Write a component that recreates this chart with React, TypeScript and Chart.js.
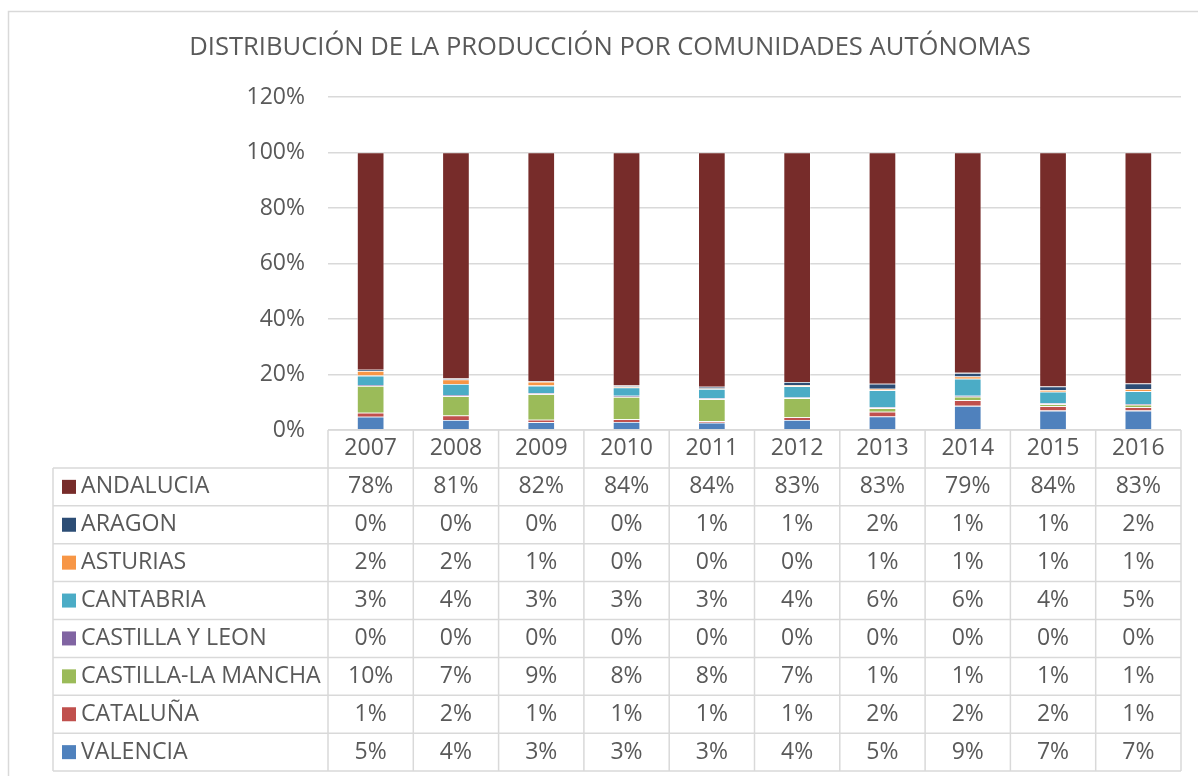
import React, { useEffect, useRef } from 'react';
import { Chart, registerables } from 'chart.js';

Chart.register(...registerables);

// ---- Data ----
const years = ['2007', '2008', '2009', '2010', '2011', '2012', '2013', '2014', '2015', '2016'];

const valencia = [4.8, 3.6, 2.8, 2.9, 2.6, 3.6, 4.9, 8.7, 7.0, 7.0];
const cataluna = [1.4, 1.6, 0.9, 1.0, 0.6, 1.0, 1.7, 2.0, 1.6, 1.2];
const castillaLaMancha = [9.7, 7.0, 9.2, 8.0, 7.9, 6.9, 1.3, 1.3, 0.7, 0.9];
const castillaLeon = [0.3, 0.4, 0.4, 0.4, 0.3, 0.2, 0.3, 0.3, 0.3, 0.3];
const cantabria = [3.4, 4.0, 2.7, 3.0, 3.4, 4.1, 6.1, 6.2, 4.2, 4.6];
const asturias = [1.7, 1.6, 1.4, 0.4, 0.2, 0.3, 0.6, 0.8, 0.6, 0.8];
const aragon = [0.4, 0.4, 0.2, 0.3, 0.6, 1.2, 1.8, 1.3, 1.3, 2.0];
const andalucia = [78.3, 81.4, 82.4, 84.0, 84.4, 82.7, 83.3, 79.4, 84.3, 83.2];

// stacking order, bottom to top
const seriesNames = ['VALENCIA', 'CATALUÑA', 'CASTILLA-LA MANCHA', 'CASTILLA Y LEON', 'CANTABRIA', 'ASTURIAS', 'ARAGON', 'ANDALUCIA'];
const seriesValues = [valencia, cataluna, castillaLaMancha, castillaLeon, cantabria, asturias, aragon, andalucia];
const seriesColors = ['#4F81BD', '#C0504D', '#9BBB59', '#8064A2', '#4BACC6', '#F79646', '#2C4D75', '#772C2A'];
// row order in the data table (indexes into the series above)
const tableOrder = [7, 6, 5, 4, 3, 2, 1, 0];

const yTickValues = [0, 20, 40, 60, 80, 100, 120];
const chartTitle = 'DISTRIBUCIÓN DE LA PRODUCCIÓN POR COMUNIDADES AUTÓNOMAS';

const FONT = '"Open Sans", "DejaVu Sans", sans-serif';
const TEXT = '#595959';
const LINE = '#D9D9D9';

const tablePlugin = {
  id: 'excelTable',
  beforeDraw(chart: any) {
    const ctx = chart.ctx;
    ctx.save();
    ctx.fillStyle = '#ffffff';
    ctx.fillRect(0, 0, chart.width, chart.height);
    ctx.strokeStyle = LINE;
    ctx.lineWidth = 1.5;
    ctx.beginPath();
    ctx.moveTo(8.5, chart.height + 5);
    ctx.lineTo(8.5, 11.5);
    ctx.lineTo(chart.width + 5, 11.5);
    ctx.stroke();
    ctx.restore();
  },
  afterDraw(chart: any) {
    const { ctx, chartArea } = chart;
    const x = chart.scales.x;
    const top = chartArea.bottom;
    const rowH = 37.9;
    const nRows = seriesNames.length + 1;
    const bottom = top + rowH * nRows;
    const colW = x.getPixelForValue(1) - x.getPixelForValue(0);
    const left = x.getPixelForValue(0) - colW / 2;
    const right = left + colW * years.length;
    const legendLeft = 53;

    ctx.save();
    // title
    ctx.fillStyle = TEXT;
    ctx.font = `25.6px ${FONT}`;
    ctx.textAlign = 'center';
    ctx.textBaseline = 'middle';
    ctx.fillText(chartTitle, 610, 48);

    // grid lines of the table
    ctx.strokeStyle = LINE;
    ctx.lineWidth = 1.5;
    ctx.beginPath();
    ctx.moveTo(left, top);
    ctx.lineTo(right, top);
    for (let r = 1; r <= nRows; r++) {
      const yy = top + r * rowH;
      ctx.moveTo(legendLeft, yy);
      ctx.lineTo(right, yy);
    }
    for (let i = 0; i <= years.length; i++) {
      const xx = left + i * colW;
      ctx.moveTo(xx, top);
      ctx.lineTo(xx, bottom);
    }
    ctx.moveTo(legendLeft, top + rowH);
    ctx.lineTo(legendLeft, bottom);
    ctx.stroke();

    // header
    ctx.fillStyle = TEXT;
    ctx.font = `23px ${FONT}`;
    ctx.textAlign = 'center';
    ctx.textBaseline = 'middle';
    years.forEach((yr, i) => {
      ctx.fillText(yr, x.getPixelForValue(i), top + rowH / 2);
    });

    // rows
    tableOrder.forEach((si, r) => {
      const cy = top + rowH * (r + 1) + rowH / 2;
      ctx.fillStyle = seriesColors[si];
      ctx.fillRect(62, cy - 7, 14, 14);
      ctx.fillStyle = TEXT;
      ctx.textAlign = 'left';
      ctx.font = `23.2px ${FONT}`;
      ctx.fillText(seriesNames[si], 81, cy);
      ctx.textAlign = 'center';
      ctx.font = `23px ${FONT}`;
      seriesValues[si].forEach((v, i) => {
        ctx.fillText(Math.round(v) + '%', x.getPixelForValue(i), cy);
      });
    });
    ctx.restore();
  },
};

export default function App() {
  const ref = useRef<HTMLCanvasElement | null>(null);

  useEffect(() => {
    if (!ref.current) return;
    const chart = new Chart(ref.current, {
      type: 'bar',
      data: {
        labels: years,
        datasets: seriesNames.map((name, i) => ({
          label: name,
          data: seriesValues[i],
          backgroundColor: seriesColors[i],
          borderColor: 'rgba(255,255,255,0.45)',
          borderWidth: 0.8,
          barPercentage: 0.32,
          categoryPercentage: 1,
        })),
      },
      options: {
        responsive: false,
        animation: false,
        devicePixelRatio: 1,
        layout: { padding: { left: 0, right: 17, top: 97, bottom: 346 } },
        plugins: {
          legend: { display: false },
          title: { display: false },
          tooltip: { enabled: false },
        },
        scales: {
          x: {
            stacked: true,
            display: false,
          },
          y: {
            stacked: true,
            min: 0,
            max: 120,
            afterFit: (scale: any) => {
              scale.width = 328;
            },
            afterBuildTicks: (scale: any) => {
              scale.ticks = yTickValues.map((v) => ({ value: v }));
            },
            border: { display: false },
            grid: { color: LINE, lineWidth: 1.5, drawTicks: false },
            ticks: {
              padding: 23,
              color: TEXT,
              font: { family: FONT, size: 23 },
              callback: (v: any) => v + '%',
            },
          },
        },
      },
      plugins: [tablePlugin],
    });
    return () => chart.destroy();
  }, []);

  return (
    <div style={{ position: 'absolute', left: 0, top: 0, width: 1198, height: 776, overflow: 'hidden', background: '#fff' }}>
      <canvas ref={ref} width={1198} height={776} style={{ width: 1198, height: 776, display: 'block' }} />
    </div>
  );
}
